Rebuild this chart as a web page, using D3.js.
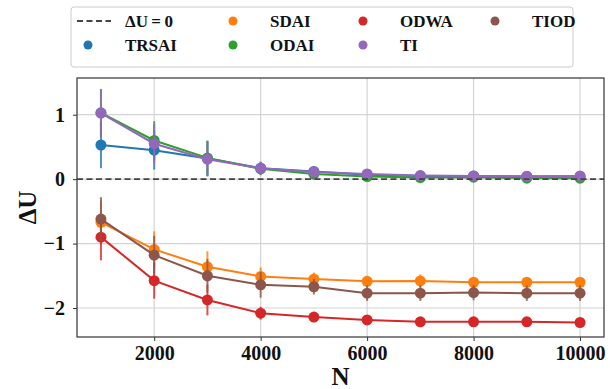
<!DOCTYPE html>
<html>
<head>
<meta charset="utf-8">
<script src="https://cdn.jsdelivr.net/npm/d3@7"></script>
<style>
  body { margin: 0; background: #fff; }
  svg text { font-family: "Liberation Serif", "DejaVu Serif", serif; font-weight: bold; fill: #111; }
</style>
</head>
<body>
<svg id="chart" width="610" height="389"></svg>
<script>
// sample sizes on the x axis
const nValues = [1000, 2000, 3000, 4000, 5000, 6000, 7000, 8000, 9000, 10000];
const xTicks = [2000, 4000, 6000, 8000, 10000];
const yTicks = [-2, -1, 0, 1];

// mean delta U per method
const trsai = [0.53, 0.45, 0.32, 0.17, 0.12, 0.07, 0.05, 0.05, 0.04, 0.04];
const sdai  = [-0.67, -1.09, -1.36, -1.51, -1.55, -1.585, -1.58, -1.60, -1.60, -1.60];
const odai  = [1.03, 0.60, 0.33, 0.16, 0.08, 0.04, 0.025, 0.03, 0.015, 0.015];
const odwa  = [-0.90, -1.575, -1.875, -2.08, -2.14, -2.185, -2.215, -2.215, -2.215, -2.225];
const ti    = [1.025, 0.55, 0.31, 0.17, 0.11, 0.08, 0.056, 0.05, 0.045, 0.05];
const tiod  = [-0.62, -1.18, -1.50, -1.64, -1.67, -1.77, -1.77, -1.76, -1.77, -1.77];

// half-widths of the error bars
const trsaiErr = [0.36, 0.30, 0.27, 0.10, 0.08, 0.05, 0.05, 0.05, 0.04, 0.04];
const sdaiErr  = [0.34, 0.28, 0.24, 0.14, 0.10, 0.08, 0.10, 0.06, 0.06, 0.06];
const odaiErr  = [0.37, 0.30, 0.27, 0.10, 0.08, 0.05, 0.07, 0.05, 0.04, 0.04];
const odwaErr  = [0.36, 0.28, 0.24, 0.10, 0.08, 0.05, 0.05, 0.04, 0.04, 0.04];
const tiErr    = [0.37, 0.30, 0.27, 0.10, 0.08, 0.05, 0.05, 0.05, 0.04, 0.04];
const tiodErr  = [0.34, 0.30, 0.26, 0.20, 0.12, 0.12, 0.12, 0.12, 0.12, 0.12];

const seriesNames = ["TRSAI", "SDAI", "ODAI", "ODWA", "TI", "TIOD"];
const seriesColors = ["#1f77b4", "#ff7f0e", "#2ca02c", "#d62728", "#9467bd", "#8c564b"];
const seriesValues = [trsai, sdai, odai, odwa, ti, tiod];
const seriesErrors = [trsaiErr, sdaiErr, odaiErr, odwaErr, tiErr, tiodErr];

const serif = '"Liberation Serif", "DejaVu Serif", serif';
const margin = {left: 77, right: 6, top: 78, bottom: 52};
const width = 610, height = 389;

const svg = d3.select("#chart");

const x = d3.scaleLinear().domain([550, 10450]).range([margin.left, width - margin.right]);
const y = d3.scaleLinear().domain([-2.45, 1.57]).range([height - margin.bottom, margin.top]);

// grid
const grid = svg.append("g").attr("class", "grid");
grid.selectAll("line.gx").data(xTicks).enter().append("line")
  .attr("x1", d => x(d)).attr("x2", d => x(d))
  .attr("y1", y.range()[0]).attr("y2", y.range()[1])
  .attr("stroke", "#d4d4d4").attr("stroke-width", 1.2);
grid.selectAll("line.gy").data(yTicks).enter().append("line")
  .attr("y1", d => y(d)).attr("y2", d => y(d))
  .attr("x1", x.range()[0]).attr("x2", x.range()[1])
  .attr("stroke", "#d4d4d4").attr("stroke-width", 1.2);

// series
const line = d3.line().x((d, i) => x(nValues[i])).y(d => y(d));
seriesValues.forEach((vals, k) => {
  const g = svg.append("g").attr("class", "series");
  const col = seriesColors[k];
  g.selectAll("line.err").data(vals).enter().append("line")
    .attr("x1", (d, i) => x(nValues[i])).attr("x2", (d, i) => x(nValues[i]))
    .attr("y1", (d, i) => y(d - seriesErrors[k][i]))
    .attr("y2", (d, i) => y(d + seriesErrors[k][i]))
    .attr("stroke", col).attr("stroke-width", 2).attr("opacity", 0.8);
  g.append("path").datum(vals)
    .attr("d", line).attr("fill", "none")
    .attr("stroke", col).attr("stroke-width", 2);
  g.selectAll("circle").data(vals).enter().append("circle")
    .attr("cx", (d, i) => x(nValues[i])).attr("cy", d => y(d))
    .attr("r", 5.5).attr("fill", col);
});

// reference line at zero
svg.append("line")
  .attr("x1", x.range()[0]).attr("x2", x.range()[1])
  .attr("y1", y(0)).attr("y2", y(0))
  .attr("stroke", "#444").attr("stroke-width", 1.8)
  .attr("stroke-dasharray", "6,3.5");

// axes
const xAxis = d3.axisBottom(x).tickValues(xTicks).tickSize(4).tickPadding(5)
  .tickFormat(d3.format("d"));
const yAxis = d3.axisLeft(y).tickValues(yTicks).tickSize(4).tickPadding(8)
  .tickFormat(d => d < 0 ? "\u2212" + Math.abs(d) : d);

const gx = svg.append("g").attr("transform", `translate(0,${y.range()[0]})`).call(xAxis);
const gy = svg.append("g").attr("transform", `translate(${x.range()[0]},0)`).call(yAxis);
[gx, gy].forEach(a => {
  a.attr("font-family", null).attr("font-size", null);
  a.select(".domain").remove();
  a.selectAll("line").attr("stroke", "#333");
  a.selectAll("text")
    .style("font-family", serif).style("font-weight", "bold")
    .style("font-size", "20px").attr("fill", "#111");
});

svg.append("rect")
  .attr("x", x.range()[0]).attr("y", y.range()[1])
  .attr("width", x.range()[1] - x.range()[0]).attr("height", y.range()[0] - y.range()[1])
  .attr("fill", "none").attr("stroke", "#333").attr("stroke-width", 1.2);

svg.append("text")
  .attr("x", (x.range()[0] + x.range()[1]) / 2).attr("y", 385)
  .attr("text-anchor", "middle").style("font-size", "25px").text("N");

svg.append("text")
  .attr("transform", `translate(36,${(y.range()[0] + y.range()[1]) / 2}) rotate(-90)`)
  .attr("text-anchor", "middle").style("font-size", "25px").text("ΔU");

// legend
const legend = svg.append("g").attr("class", "legend");
legend.append("rect")
  .attr("x", 71).attr("y", 7).attr("width", 502).attr("height", 60).attr("rx", 3)
  .attr("fill", "#fff").attr("stroke", "#ccc").attr("stroke-width", 1);

const legendItems = [{name: "ΔU\u2009=\u20090", dashed: true}].concat(
  seriesNames.map((n, i) => ({name: n, color: seriesColors[i]})));
const colX = [77, 222, 352, 484];
const rowY = [21, 45];
legendItems.forEach((it, i) => {
  const cx = colX[Math.floor(i / 2)], cy = rowY[i % 2];
  if (it.dashed) {
    legend.append("line")
      .attr("x1", cx).attr("x2", cx + 34).attr("y1", cy).attr("y2", cy)
      .attr("stroke", "#444").attr("stroke-width", 1.8).attr("stroke-dasharray", "6,3.5");
  } else {
    legend.append("circle").attr("cx", cx + 11).attr("cy", cy).attr("r", 4.5).attr("fill", it.color);
  }
  legend.append("text")
    .attr("x", cx + 48).attr("y", cy + 6)
    .style("font-size", "17px").text(it.name);
});
</script>
</body>
</html>
